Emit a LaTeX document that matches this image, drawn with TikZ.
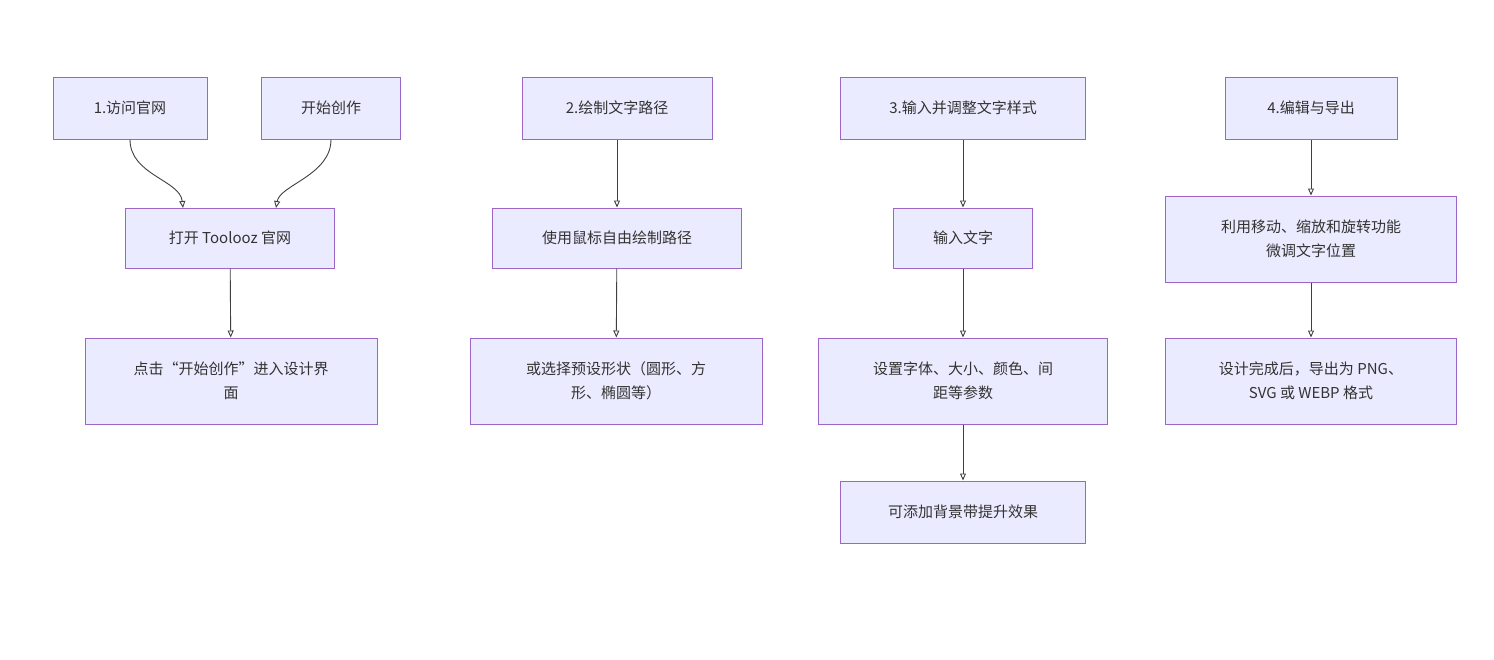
\documentclass[tikz,border=0pt]{standalone}
\usepackage{fontspec}
\setmainfont{Noto Sans CJK SC}
\usetikzlibrary{arrows.meta,patterns}
\begin{document}
\begin{tikzpicture}[x=1pt,y=-1pt,
 box/.style={draw=violet!70!blue!60, line width=1pt, fill=blue!8, pattern color=violet!25,
   align=center, font=\fontsize{15}{24}\selectfont, text=black!80, inner sep=0pt},
 arr/.style={draw=black!75, line width=0.9pt, -{Triangle[open,length=7pt,width=6pt]}}]
\useasboundingbox (0,0) rectangle (1494,659);
\newcommand{\bx}[6]{\node[box,minimum width=#4,minimum height=#5] (#1) at (#2,#3) {#6};}
\bx{a1}{130}{108}{154}{62}{1.访问官网}
\bx{a0}{331}{108}{139}{62}{开始创作}
\bx{a2}{230}{238}{209}{60}{打开 Toolooz 官网}
\bx{a3}{231}{381}{292}{86}{点击“开始创作”进入设计界\\面}
\bx{b1}{617}{108}{190}{62}{2.绘制文字路径}
\bx{b2}{617}{238}{249}{60}{使用鼠标自由绘制路径}
\bx{b3}{616}{381}{292}{86}{或选择预设形状（圆形、方\\形、椭圆等）}
\bx{c1}{963}{108}{245}{62}{3.输入并调整文字样式}
\bx{c2}{963}{238}{139}{60}{输入文字}
\bx{c3}{963}{381}{289}{86}{设置字体、大小、颜色、间\\距等参数}
\bx{c4}{963}{512}{245}{62}{可添加背景带提升效果}
\bx{d1}{1311}{108}{172}{62}{4.编辑与导出}
\bx{d2}{1311}{239}{291}{86}{利用移动、缩放和旋转功能\\微调文字位置}
\bx{d3}{1311}{381}{291}{86}{设计完成后，导出为 PNG、\\SVG 或 WEBP 格式}
\draw[arr] (a1.south) ++(0,0) .. controls (130,175) and (180,180) .. (183,208);
\draw[arr] (a0.south) ++(0,0) .. controls (331,175) and (280,185) .. (276,208);
\draw[arr] (a2) -- (a3);
\draw[arr] (b1) -- (b2); \draw[arr] (b2) -- (b3);
\draw[arr] (c1) -- (c2); \draw[arr] (c2) -- (c3); \draw[arr] (c3) -- (c4);
\draw[arr] (d1) -- (d2); \draw[arr] (d2) -- (d3);
\end{tikzpicture}
\end{document}
